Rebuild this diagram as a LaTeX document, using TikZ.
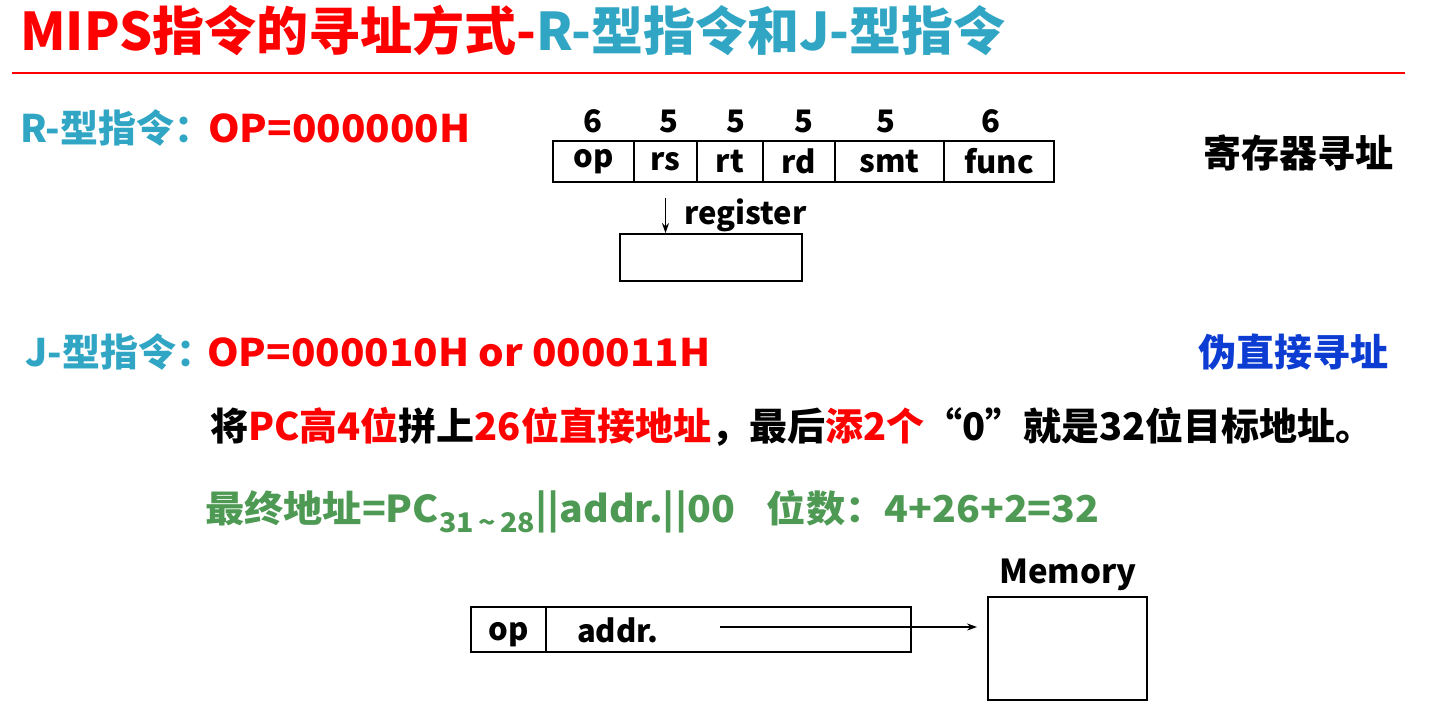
\documentclass[tikz,border=0pt]{standalone}
\usepackage{fontspec}
\setmainfont{Noto Sans CJK SC}
\newfontfamily\widefont{Noto Sans CJK SC}[FakeStretch=1.06]
\usetikzlibrary{arrows.meta}
\definecolor{tred}{RGB}{255,0,0}
\definecolor{tteal}{RGB}{49,166,196}
\definecolor{tblue}{RGB}{12,60,210}
\definecolor{tgreen}{RGB}{78,154,84}
\tikzset{
  txt/.style={inner sep=0pt, anchor=west, font=\bfseries\fontsize{38}{42}\selectfont},
  wtxt/.style={inner sep=0pt, anchor=west, font=\widefont\bfseries\fontsize{38}{42}\selectfont},
  ttl/.style={inner sep=0pt, anchor=west, font=\bfseries\fontsize{52}{56}\selectfont},
  fld/.style={draw, line width=1.2pt, inner sep=0pt, minimum height=41pt, font=\bfseries\fontsize{31}{34}\selectfont},
  num/.style={inner sep=0pt, font=\bfseries\fontsize{31}{34}\selectfont},
  box/.style={draw, line width=1.8pt, inner sep=0pt},
  arr/.style={line width=1.8pt, -{Stealth[length=10pt,width=7pt]}},
}
\begin{document}
\begin{tikzpicture}[x=1pt,y=-1pt]
\useasboundingbox (0,0) rectangle (1452,728);
% title
\node[ttl] (title) at (20,31) {\color{tred}MIPS指令的寻址方式-\color{tteal}R-型指令和J-型指令};
\coordinate (rl1) at (12,73);
\coordinate (rl2) at (1405,73);
\draw[tred, line width=2pt] (rl1) -- (rl2);
% R type
\node[txt, text=tteal] (rlab) at (20,128) {R-型指令：};
\node[wtxt, text=tred] (rop) at (208,128) {OP=000000H};
\node[fld, minimum width=81pt] (fop) at (593.5,161.5) {op};
\node[fld, minimum width=63pt] (frs) at (665.5,161.5) {rs};
\node[fld, minimum width=66pt] (frt) at (730,161.5) {rt};
\node[fld, minimum width=72pt] (frd) at (799,161.5) {rd};
\node[fld, minimum width=109pt] (fsmt) at (889.5,161.5) {smt};
\node[fld, minimum width=110pt] (ffunc) at (999,161.5) {func};
\node[num] (n1) at (593,121) {6};
\node[num] (n2) at (669,121) {5};
\node[num] (n3) at (736,121) {5};
\node[num] (n4) at (804,121) {5};
\node[num] (n5) at (886,121) {5};
\node[num] (n6) at (991,121) {6};
\node[box, minimum width=182pt, minimum height=47pt] (reg) at (711,257.5) {};
\draw[arr] ([yshift=-15pt]frs.south) -- (frs.south |- reg.north);
\node[num, anchor=west] (reglab) at (684,215) {register};
\node[txt] (raddr) at (1203,153) {寄存器寻址};
% J type
\node[txt, text=tteal] (jlab) at (25,352) {J-型指令：};
\node[wtxt, text=tred] (jop) at (207,352) {OP=000010H or 000011H};
\node[txt, text=tblue] (jaddr) at (1198,352) {伪直接寻址};
\node[txt] (desc) at (210,427) {将{\color{tred}PC高4位}拼上{\color{tred}26位直接地址}，最后{\color{tred}添2个}“0”就是32位目标地址。};
\node[wtxt, text=tgreen, font=\widefont\bfseries\fontsize{37}{40}\selectfont] (fin) at (205,512) {最终地址=PC\raisebox{-10pt}{\fontsize{27}{30}\selectfont 31\,\textasciitilde\,28}||addr.||00\hspace{32pt}位数：4+26+2=32};
% bottom
\node[box, minimum width=75pt, minimum height=45pt] (bop) at (508.5,629.5) {};
\node[box, minimum width=365pt, minimum height=45pt] (baddr) at (728.5,629.5) {};
\node[num] (bopt) at (509,635) {op};
\node[num] (baddrt) at (618,630) {addr.};
\node[box, minimum width=159pt, minimum height=103pt] (mem) at (1067.5,648.5) {};
\node[num, font=\bfseries\fontsize{33}{36}\selectfont] (memt) at (1068,575) {Memory};
\coordinate (astart) at (720,627);
\draw[arr] (astart) -- ([xshift=-10pt]mem.west |- astart);
\end{tikzpicture}
\end{document}
